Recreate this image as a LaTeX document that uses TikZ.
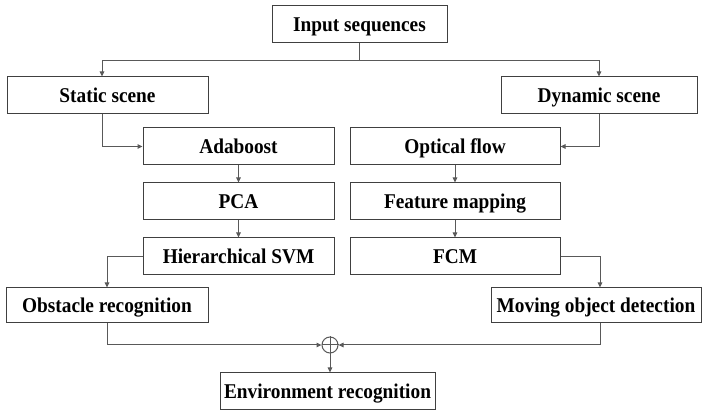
\documentclass[tikz,border=0pt]{standalone}
\usepackage{fontspec}
\setmainfont{Liberation Serif}[FakeStretch=0.92]
\usetikzlibrary{arrows.meta}
\begin{document}
\begin{tikzpicture}[x=1pt,y=-1pt,
  box/.style={draw=black!75, line width=1pt, font=\fontsize{21}{23}\selectfont\bfseries, inner sep=0pt, anchor=center, minimum height=37pt, text height=16pt, text depth=2pt},
  con/.style={draw=black!65, line width=1pt},
  arr/.style={con, -{Triangle[length=5pt,width=4.5pt]}},
  sumc/.style={circle, draw=black!65, line width=1pt, minimum size=16pt, inner sep=0pt}]
\useasboundingbox (0,0) rectangle (705,411);
\node[box, minimum width=175pt] (in) at (359.5,24.5) {Input sequences};
\node[box, minimum width=201pt] (st) at (107.5,95.5) {Static scene};
\node[box, minimum width=196pt] (dy) at (599,95.5) {Dynamic scene};
\node[box, minimum width=191pt] (ada) at (238.5,146.5) {Adaboost};
\node[box, minimum width=210pt] (of) at (455,146.5) {Optical flow};
\node[box, minimum width=191pt] (pca) at (238.5,201.5) {PCA};
\node[box, minimum width=210pt] (fm) at (455,201.5) {Feature mapping};
\node[box, minimum width=191pt] (svm) at (238.5,256.5) {Hierarchical SVM};
\node[box, minimum width=210pt] (fcm) at (455,256.5) {FCM};
\node[box, minimum width=202pt, minimum height=35pt] (ob) at (107,305.5) {Obstacle recognition};
\node[box, minimum width=210pt, minimum height=35pt] (mo) at (596,305.5) {Moving object detection};
\node[box, minimum width=215pt] (env) at (327.5,391.5) {Environment recognition};
\node[sumc] (c) at (330,345) {};
\draw[con] (c.north) -- (c.south) (c.west) -- (c.east);
\coordinate (br) at (359.5,61);
\draw[con] (in.south) -- (br);
\draw[arr] (br) -| ([xshift=-5.5pt]st.north);
\draw[arr] (br) -| (dy.north);
\draw[arr] ([xshift=-5.5pt]st.south) |- (ada.west);
\draw[arr] (dy.south) |- (of.east);
\draw[arr] (ada) -- (pca);
\draw[arr] (pca) -- (svm);
\draw[arr] (of) -- (fm);
\draw[arr] (fm) -- (fcm);
\draw[arr] (svm.west) -| (ob.north);
\draw[arr] (fcm.east) -| ([xshift=4pt]mo.north);
\draw[arr] (ob.south) |- (c.west);
\draw[arr] ([xshift=4pt]mo.south) |- (c.east);
\draw[arr] (c.south) -- (c.south |- env.north);
\end{tikzpicture}
\end{document}
